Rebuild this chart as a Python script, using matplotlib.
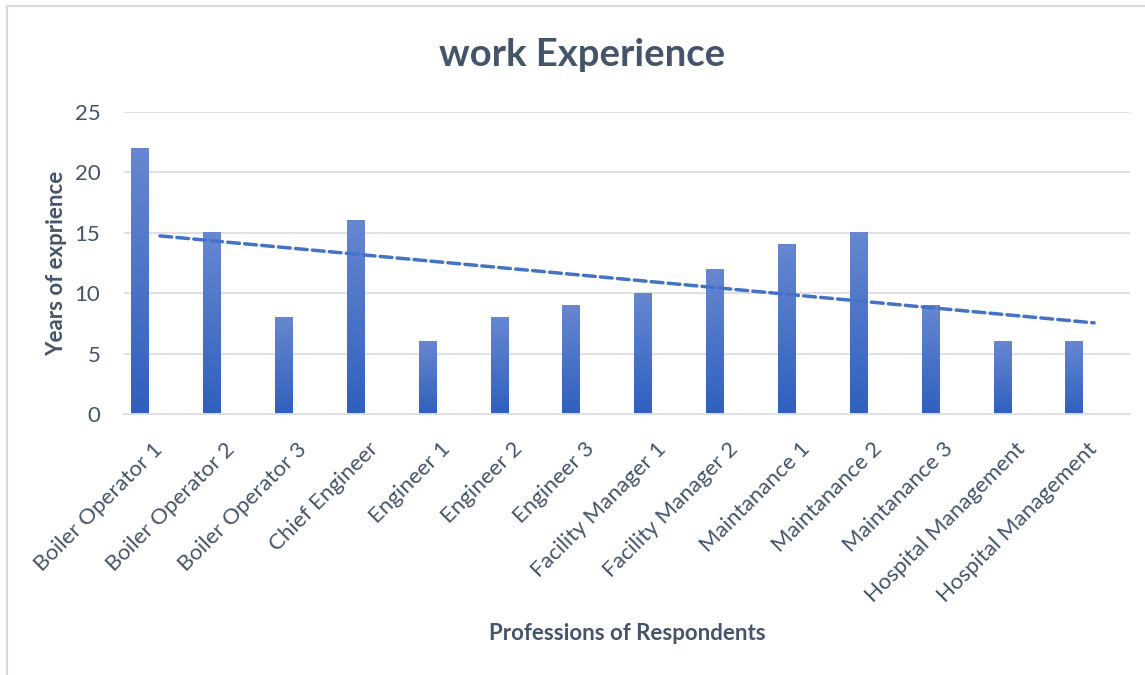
import numpy as np
import matplotlib
matplotlib.use("Agg")
import matplotlib.pyplot as plt
from matplotlib.colors import LinearSegmentedColormap
from matplotlib.lines import Line2D

# Chart data
categories = [
    "Boiler Operator 1", "Boiler Operator 2", "Boiler Operator 3",
    "Chief Engineer", "Engineer 1", "Engineer 2", "Engineer 3",
    "Facility Manager 1", "Facility Manager 2", "Maintanance 1",
    "Maintanance 2", "Maintanance 3", "Hospital Management",
    "Hospital Management",
]
years = [22, 15, 8, 16, 6, 8, 9, 10, 12, 14, 15, 9, 6, 6]
y_ticks = [0, 5, 10, 15, 20, 25]

TEXT = "#44546A"
GRID = "#DDE0E5"
TREND = "#4472C4"

plt.rcParams["font.family"] = ["Lato", "DejaVu Sans"]

fig = plt.figure(figsize=(11.45, 6.75), dpi=100)
ax = fig.add_axes([124 / 1145, 1 - 414 / 675, (1130 - 124) / 1145, (414 - 112) / 675])

x = np.arange(len(categories))
bar_offset = -0.28
bar_width = 0.237

bars = ax.bar(x + bar_offset, years, width=bar_width, color="none", zorder=2)

# vertical gradient fill, lighter at the top of each bar
grad_cmap = LinearSegmentedColormap.from_list("bar_grad", ["#2F60BE", "#6787D0"])
grad = np.linspace(0, 1, 256).reshape(-1, 1)
for b in bars:
    x0, y0 = b.get_x(), b.get_y()
    w, h = b.get_width(), b.get_height()
    ax.imshow(grad, cmap=grad_cmap, origin="lower", aspect="auto",
              extent=(x0, x0 + w, y0, y0 + h), zorder=2, interpolation="bicubic")

# linear trendline
slope, intercept = np.polyfit(x, years, 1)
ax.plot(x, slope * x + intercept, color=TREND, lw=2.5, linestyle=(0, (3.4, 1.5)),
        dash_capstyle="round", zorder=3)

ax.set_xlim(-0.5, len(categories) - 0.5)
ax.set_ylim(0, 25)
ax.set_yticks(y_ticks)
ax.set_xticks(x)
ax.set_xticklabels(categories, rotation=45, ha="right", va="center",
                   rotation_mode="anchor", fontsize=16, color=TEXT)
ax.tick_params(axis="y", length=0, pad=17, labelsize=16, labelcolor=TEXT)
ax.tick_params(axis="x", length=0, pad=23)

ax.grid(axis="y", color=GRID, lw=1.4, zorder=0)
ax.set_axisbelow(True)
for side in ["top", "right", "left"]:
    ax.spines[side].set_visible(False)
ax.spines["bottom"].set_color(GRID)
ax.spines["bottom"].set_linewidth(1.4)

fig.text(582 / 1145, 1 - 55 / 675, "work Experience", ha="center", va="center",
         fontsize=27.5, fontweight="bold", color=TEXT)
fig.text(627 / 1145, 1 - 633 / 675, "Professions of Respondents", ha="center",
         va="center", fontsize=16, fontweight="bold", color=TEXT)
fig.text(57 / 1145, 1 - 263 / 675, "Years of exprience", ha="center", va="center",
         rotation=90, fontsize=16, fontweight="bold", color=TEXT)

# chart frame edges
fig.add_artist(Line2D([7 / 1145, 7 / 1145], [0, 1 - 6 / 675], transform=fig.transFigure,
                      color="#D9D9D9", lw=1.5))
fig.add_artist(Line2D([7 / 1145, 1], [1 - 6 / 675, 1 - 6 / 675], transform=fig.transFigure,
                      color="#D9D9D9", lw=1.5))

fig.savefig("out.png", dpi=100, facecolor="white")
